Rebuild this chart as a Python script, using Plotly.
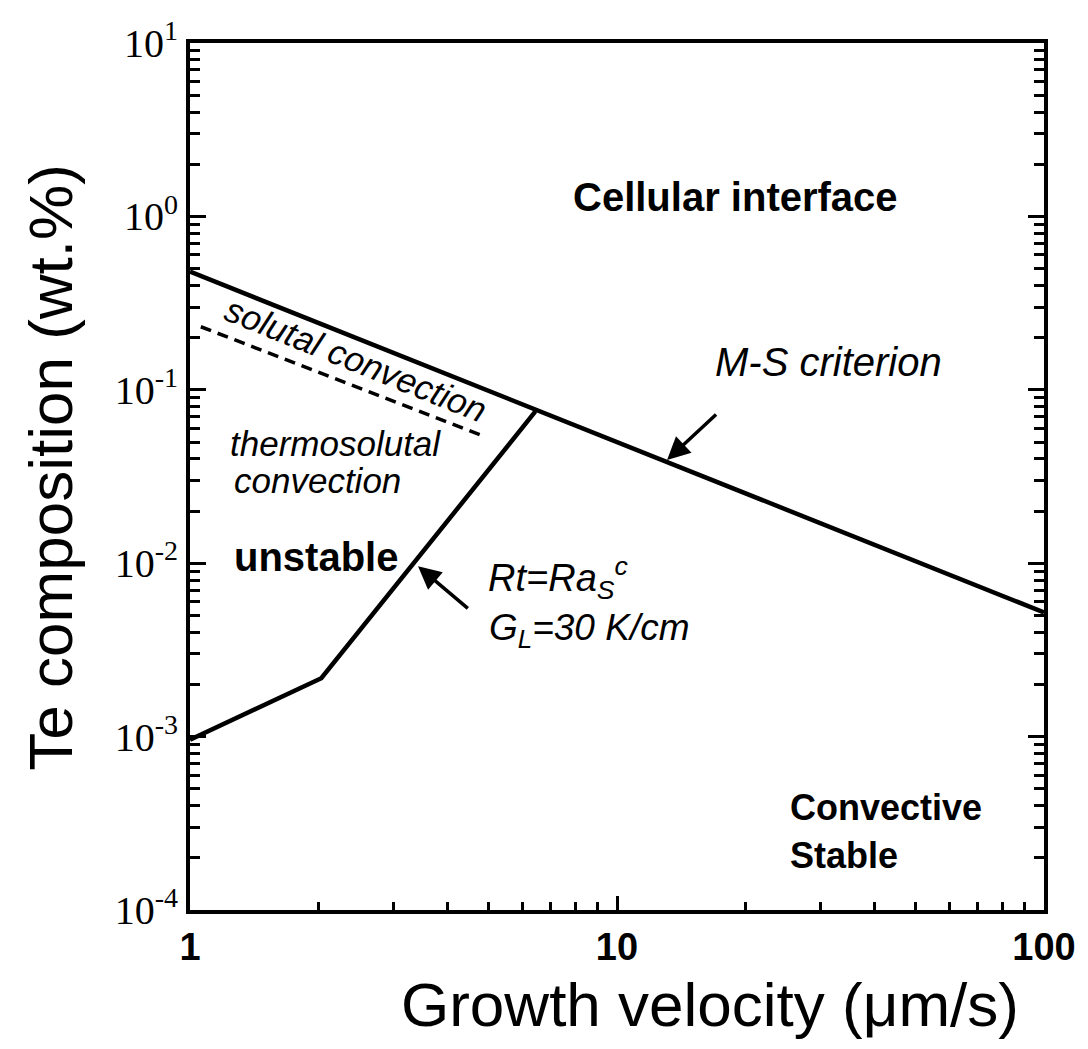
import numpy as np
import plotly.graph_objects as go

# Morphological stability (M-S) criterion: Te composition vs growth velocity
ms_velocity = [1.0, 100.0]
ms_composition = [0.48, 0.0052]

# Rt = Ra_S^c boundary at G_L = 30 K/cm
rt_velocity = [1.0, 2.03, 6.44]
rt_composition = [0.00096, 0.00217, 0.075]

# solutal / thermosolutal convection divide
sc_velocity = [1.06, 4.8]
sc_composition = [0.231, 0.0548]

# axis ticks
x_tickvals = [1, 10, 100]
x_ticktext = ["1", "10", "100"]
y_tickvals = [1e-4, 1e-3, 1e-2, 1e-1, 1e0, 1e1]
y_ticktext = ["10<sup>-4</sup>", "10<sup>-3</sup>", "10<sup>-2</sup>",
              "10<sup>-1</sup>", "10<sup>0</sup>", "10<sup>1</sup>"]

SANS = "Liberation Sans, Arial, sans-serif"
SERIF = "Liberation Serif, Times New Roman, serif"
L = np.log10

fig = go.Figure()
fig.add_trace(go.Scatter(x=ms_velocity, y=ms_composition, mode="lines",
                         line=dict(color="black", width=4.5), showlegend=False))
fig.add_trace(go.Scatter(x=rt_velocity, y=rt_composition, mode="lines",
                         line=dict(color="black", width=4.5), showlegend=False))
fig.add_trace(go.Scatter(x=sc_velocity, y=sc_composition, mode="lines",
                         line=dict(color="black", width=3.5, dash="11px,7px"),
                         showlegend=False))
# invisible trace so the right-hand tick axis is drawn
fig.add_trace(go.Scatter(x=ms_velocity, y=ms_composition, mode="lines",
                         line=dict(width=0), opacity=0, yaxis="y2",
                         hoverinfo="skip", showlegend=False))

annotations = []


def label(text, x, y, size, anchor="center", angle=0):
    annotations.append(dict(text=text, x=L(x), y=L(y), xref="x", yref="y",
                            showarrow=False, xanchor=anchor, yanchor="middle",
                            textangle=angle,
                            font=dict(family=SANS, size=size, color="black")))


label("<b>Cellular interface</b>", 18.9, 1.29, 40)
label("<i>M-S criterion</i>", 31.2, 0.145, 40)
label("<i>solutal convection</i>", 2.45, 0.150, 35, angle=22)
label("<i>thermosolutal</i>", 1.226, 0.0493, 35, anchor="left")
label("<i>convection</i>", 1.253, 0.030, 35, anchor="left")
label("<b>unstable</b>", 1.253, 0.01086, 40, anchor="left")
label("<i>Rt=Ra<sub>S</sub><sup>c</sup></i>", 4.93, 0.0082, 38, anchor="left")
label("<i>G<sub>L</sub>=30 K/cm</i>", 4.95, 0.0041, 37, anchor="left")
label("<b>Convective</b>", 25.1, 3.9e-4, 36, anchor="left")
label("<b>Stable</b>", 25.1, 2.07e-4, 36, anchor="left")

# pointer arrows onto the two boundaries
for head, tail in [((13.1, 0.0394), (17.2, 0.0734)),
                   ((3.42, 0.0096), (4.51, 0.0054))]:
    annotations.append(dict(x=L(head[0]), y=L(head[1]), ax=L(tail[0]), ay=L(tail[1]),
                            xref="x", yref="y", axref="x", ayref="y", text="",
                            showarrow=True, arrowhead=2, arrowsize=1.3,
                            arrowwidth=3.5, arrowcolor="black"))

# axis titles
annotations.append(dict(text="Growth velocity (\u03bcm/s)", x=0.609, y=-0.109,
                        xref="paper", yref="paper", showarrow=False,
                        xanchor="center", yanchor="middle",
                        font=dict(family=SANS, size=62, color="black")))
annotations.append(dict(text="Te composition (wt.%)", x=-0.163, y=0.51,
                        xref="paper", yref="paper", showarrow=False,
                        xanchor="center", yanchor="middle", textangle=-90,
                        font=dict(family=SANS, size=62, color="black")))

fig.update_layout(
    width=1088, height=1049,
    margin=dict(l=190, r=41, t=43, b=139),
    plot_bgcolor="white", paper_bgcolor="white",
    annotations=annotations,
    showlegend=False,
)
fig.update_xaxes(
    type="log", range=[0, 2], showgrid=False, zeroline=False,
    showline=True, linecolor="black", linewidth=4, mirror=True,
    tickvals=x_tickvals, ticktext=["<b>%s</b>" % t for t in x_ticktext],
    ticks="inside", ticklen=14, tickwidth=3, tickcolor="black",
    tickfont=dict(family=SANS, size=38, color="black"),
    minor=dict(dtick="D1", ticks="inside", ticklen=8, tickwidth=3,
               tickcolor="black", showgrid=False),
)
tick_style = dict(
    type="log", range=[-4, 1], showgrid=False, zeroline=False,
    tickvals=y_tickvals, ticks="inside", ticklen=16, tickwidth=3,
    tickcolor="black",
    minor=dict(dtick="D1", ticks="inside", ticklen=10, tickwidth=3,
               tickcolor="black", showgrid=False),
)
fig.update_layout(
    yaxis=dict(**tick_style, showline=True, linecolor="black", linewidth=4,
               mirror=True, ticktext=y_ticktext,
               tickfont=dict(family=SERIF, size=40, color="black")),
    yaxis2=dict(**tick_style, overlaying="y", side="right", showline=False,
                showticklabels=False),
)

fig.write_html("out.html")
